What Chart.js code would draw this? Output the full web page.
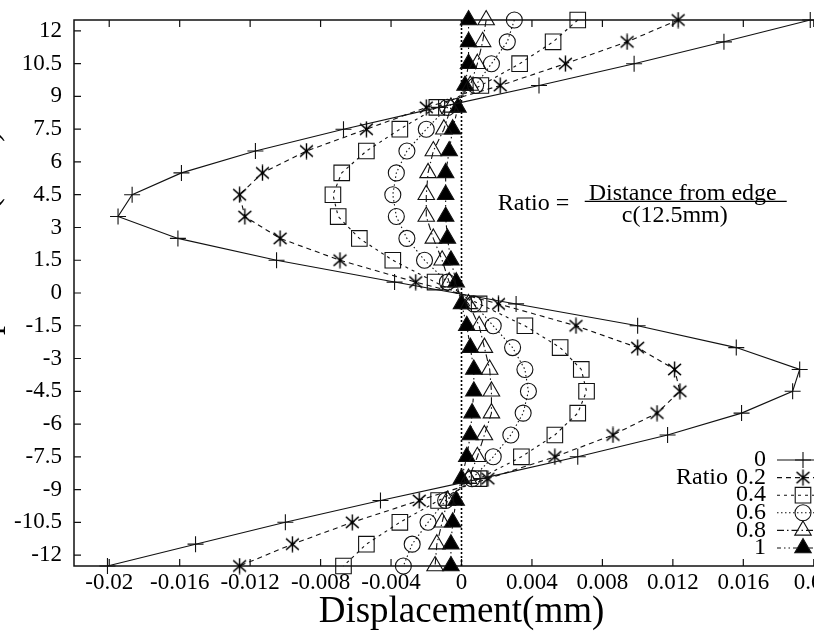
<!DOCTYPE html>
<html>
<head>
<meta charset="utf-8">
<script src="https://cdn.jsdelivr.net/npm/chart.js"></script>
<style>
  html, body { margin: 0; padding: 0; background: #fff; overflow: hidden; }
  #dispChart { position: absolute; left: -40px; top: 0; }
</style>
</head>
<body>
<canvas id="dispChart" width="910" height="634"></canvas>
<script>
// vertical position of each measuring point (mm), top to bottom
const positions = [12.5, 11.5, 10.5, 9.5, 8.5, 7.5, 6.5, 5.5, 4.5, 3.5, 2.5, 1.5, 0.5,
    -0.5, -1.5, -2.5, -3.5, -4.5, -5.5, -6.5, -7.5, -8.5, -9.5, -10.5, -11.5, -12.5];

// displacement (mm) for each ratio
const ratio0 = [0.0198, 0.0149, 0.0098, 0.0044, -0.0013, -0.0067, -0.0117, -0.0159, -0.0187, -0.0195, -0.0161, -0.0105, -0.0038,
    0.0031, 0.0100, 0.0156, 0.0192, 0.0188, 0.0159, 0.0117, 0.0066, 0.0011, -0.0046, -0.0100, -0.0151, -0.0201];
const ratio02 = [0.0123, 0.0094, 0.0059, 0.0022, -0.0020, -0.0054, -0.0088, -0.0113, -0.0126, -0.0123, -0.0103, -0.0069, -0.0026,
    0.0021, 0.0065, 0.0100, 0.0121, 0.0124, 0.0111, 0.0086, 0.0053, 0.0015, -0.0024, -0.0062, -0.0096, -0.0126];
const ratio04 = [0.0066, 0.0052, 0.0033, 0.0011, -0.0014, -0.0035, -0.0054, -0.0068, -0.0073, -0.0070, -0.0058, -0.0039, -0.0015,
    0.0010, 0.0036, 0.0056, 0.0068, 0.0071, 0.0066, 0.0053, 0.0034, 0.0010, -0.0013, -0.0035, -0.0054, -0.0067];
const ratio06 = [0.0030, 0.0026, 0.0017, 0.0008, -0.0008, -0.0020, -0.0031, -0.0037, -0.0039, -0.0037, -0.0031, -0.0021, -0.0008,
    0.0007, 0.0018, 0.0029, 0.0036, 0.0038, 0.0035, 0.0028, 0.0018, 0.0006, -0.0009, -0.0019, -0.0028, -0.0033];
const ratio08 = [0.0014, 0.0012, 0.0009, 0.0005, -0.0006, -0.0010, -0.0016, -0.0019, -0.0020, -0.0020, -0.0016, -0.0011, -0.0007,
    0.0004, 0.0010, 0.0013, 0.0016, 0.0017, 0.0017, 0.0013, 0.0009, 0.0004, -0.0008, -0.0011, -0.0014, -0.0015];
const ratio1 = [0.0004, 0.0004, 0.0004, 0.0002, -0.0002, -0.0005, -0.0007, -0.0009, -0.0009, -0.0009, -0.0008, -0.0006, -0.0003,
    0.0000, 0.0003, 0.0005, 0.0007, 0.0007, 0.0006, 0.0005, 0.0003, 0.0000, -0.0003, -0.0005, -0.0006, -0.0006];

const ratioLabels = ["0", "0.2", "0.4", "0.6", "0.8", "1"];

const xTickValues = [-0.02, -0.016, -0.012, -0.008, -0.004, 0, 0.004, 0.008, 0.012, 0.016, 0.02];
const xTickLabels = ["-0.02", "-0.016", "-0.012", "-0.008", "-0.004", "0", "0.004", "0.008", "0.012", "0.016", "0.02"];
const yTickValues = [-12, -10.5, -9, -7.5, -6, -4.5, -3, -1.5, 0, 1.5, 3, 4.5, 6, 7.5, 9, 10.5, 12];
const yTickLabels = ["-12", "-10.5", "-9", "-7.5", "-6", "-4.5", "-3", "-1.5", "0", "1.5", "3", "4.5", "6", "7.5", "9", "10.5", "12"];

const serif = "'Liberation Serif', 'Times New Roman', serif";
const ink = "#111";

// gnuplot-like asterisk (vertical bar + X)
function makeAsterisk(size) {
    const c = document.createElement("canvas");
    c.width = size;
    c.height = size;
    const g = c.getContext("2d");
    const m = size / 2, r = size / 2 - 0.5;
    g.strokeStyle = "#000";
    g.lineWidth = 1.4;
    g.beginPath();
    g.moveTo(m, m - r); g.lineTo(m, m + r);
    g.moveTo(m - r * 0.8, m - r * 0.7); g.lineTo(m + r * 0.8, m + r * 0.7);
    g.moveTo(m - r * 0.8, m + r * 0.7); g.lineTo(m + r * 0.8, m - r * 0.7);
    g.stroke();
    g.fillStyle = "#000";
    g.beginPath();
    g.arc(m, m, 1.5, 0, Math.PI * 2);
    g.fill();
    return c;
}
const asterisk = makeAsterisk(17);

function toPoints(values) {
    return values.map((v, i) => ({ x: v, y: positions[i] }));
}

function series(label, values, dash, style, radius, fill) {
    return {
        label: label,
        data: toPoints(values),
        borderColor: ink,
        borderWidth: 1.1,
        borderDash: dash,
        pointStyle: style,
        pointRadius: radius,
        pointBorderColor: ink,
        pointBorderWidth: 1.1,
        pointBackgroundColor: fill,
        tension: 0,
        clip: false,
    };
}

const data = {
    datasets: [
        series(ratioLabels[0], ratio0, [], "cross", 8, "rgba(0,0,0,0)"),
        series(ratioLabels[1], ratio02, [5, 4], asterisk, 8, "rgba(0,0,0,0)"),
        series(ratioLabels[2], ratio04, [3, 4], "rect", 11, "rgba(0,0,0,0)"),
        series(ratioLabels[3], ratio06, [1.5, 2.5], "circle", 8, "rgba(0,0,0,0)"),
        series(ratioLabels[4], ratio08, [7, 3, 1.5, 3], "triangle", 9.5, "rgba(0,0,0,0)"),
        series(ratioLabels[5], ratio1, [4, 3, 1.5, 3, 1.5, 3], "triangle", 9.5, "#000"),
        {
            label: "zero",
            data: [{ x: 0, y: 12.5 }, { x: 0, y: -12.5 }],
            borderColor: "#000",
            borderWidth: 1.6,
            borderDash: [2, 2],
            pointRadius: 0,
            clip: false,
        },
    ],
};

// frame with inward ticks on all four sides
const framePlugin = {
    id: "frame",
    beforeDatasetsDraw(chart) {
        const { ctx, chartArea: a, scales } = chart;
        ctx.save();
        ctx.strokeStyle = ink;
        ctx.lineWidth = 1.5;
        ctx.strokeRect(a.left, a.top, a.right - a.left, a.bottom - a.top);
        ctx.lineWidth = 1.2;
        ctx.beginPath();
        xTickValues.forEach(v => {
            const px = scales.x.getPixelForValue(v);
            ctx.moveTo(px, a.bottom); ctx.lineTo(px, a.bottom - 7);
            ctx.moveTo(px, a.top); ctx.lineTo(px, a.top + 7);
        });
        yTickValues.forEach(v => {
            const py = scales.y.getPixelForValue(v);
            ctx.moveTo(a.left, py); ctx.lineTo(a.left + 7, py);
            ctx.moveTo(a.right, py); ctx.lineTo(a.right - 7, py);
        });
        ctx.stroke();
        ctx.restore();
    },
};

// gnuplot style key + ratio formula
const keyPlugin = {
    id: "key",
    afterDatasetsDraw(chart) {
        const { ctx, chartArea: a, scales } = chart;
        ctx.save();
        ctx.fillStyle = "#000";
        ctx.font = "24px " + serif;
        ctx.textBaseline = "middle";

        const textRight = a.right - 83;
        const lineFrom = a.right - 72, lineTo = a.right - 22, markX = a.right - 46;
        chart.data.datasets.slice(0, 6).forEach((ds, i) => {
            const y = a.bottom - 106 + i * 17.6;
            ctx.textAlign = "right";
            ctx.fillStyle = "#000";
            ctx.fillText(ds.label, textRight, y);
            ctx.strokeStyle = ds.borderColor;
            ctx.lineWidth = ds.borderWidth;
            ctx.setLineDash(ds.borderDash);
            ctx.beginPath();
            ctx.moveTo(lineFrom, y); ctx.lineTo(lineTo, y);
            ctx.stroke();
            ctx.setLineDash([]);
            ctx.strokeStyle = ds.pointBorderColor;
            ctx.fillStyle = ds.pointBackgroundColor;
            ctx.lineWidth = ds.pointBorderWidth;
            Chart.helpers.drawPoint(ctx, {
                pointStyle: ds.pointStyle, radius: ds.pointRadius, rotation: 0, borderWidth: ds.pointBorderWidth,
            }, markX, y);
        });
        ctx.fillStyle = "#000";
        ctx.textAlign = "right";
        ctx.fillText("Ratio", textRight - 38, a.bottom - 106 + 17.6);

        // Ratio = Distance from edge / c(12.5mm)
        const x0 = scales.x.getPixelForValue(0.002);
        const yMid = scales.y.getPixelForValue(4.1);
        ctx.textAlign = "left";
        ctx.fillText("Ratio =", x0 + 1, yMid);
        ctx.textAlign = "center";
        ctx.fillText("Distance from edge", x0 + 186, yMid - 10);
        ctx.fillText("c(12.5mm)", x0 + 178, yMid + 12);
        ctx.strokeStyle = "#000";
        ctx.lineWidth = 1.3;
        ctx.beginPath();
        ctx.moveTo(x0 + 88, yMid - 2); ctx.lineTo(x0 + 290, yMid - 2);
        ctx.stroke();
        ctx.restore();
    },
};

const config = {
    type: "line",
    data: data,
    options: {
        responsive: false,
        animation: false,
        layout: { autoPadding: false, padding: { left: 0, right: 21, top: 20, bottom: 0 } },
        plugins: {
            legend: { display: false },
            tooltip: { enabled: false },
        },
        scales: {
            x: {
                type: "linear",
                min: -0.022,
                max: 0.022,
                afterBuildTicks: s => { s.ticks = xTickValues.map(v => ({ value: v })); },
                afterFit: s => { s.height = 68; s.paddingLeft = 0; s.paddingRight = 0; },
                grid: { display: false, drawTicks: false },
                border: { display: false },
                ticks: {
                    padding: 3,
                    color: "#000",
                    font: { family: serif, size: 23 },
                    maxRotation: 0,
                    autoSkip: false,
                    callback: (v) => xTickLabels[xTickValues.indexOf(v)] ?? "",
                },
                title: {
                    display: true,
                    text: "Displacement(mm)",
                    color: "#000",
                    font: { family: serif, size: 37 },
                    padding: { top: 0, bottom: 0 },
                },
            },
            y: {
                type: "linear",
                min: -12.5,
                max: 12.5,
                afterBuildTicks: s => { s.ticks = yTickValues.map(v => ({ value: v })); },
                afterFit: s => { s.width = 114; s.paddingTop = 0; s.paddingBottom = 0; },
                grid: { display: false, drawTicks: false },
                border: { display: false },
                ticks: {
                    padding: 12,
                    color: "#000",
                    font: { family: serif, size: 23 },
                    autoSkip: false,
                    callback: (v) => yTickLabels[yTickValues.indexOf(v)] ?? "",
                },
                title: {
                    display: true,
                    text: "Vertical position (mm)",
                    color: "#000",
                    font: { family: serif, size: 36 },
                    padding: { top: 6, bottom: 0 },
                },
            },
        },
    },
    plugins: [framePlugin, keyPlugin],
};

const ctx = document.getElementById("dispChart").getContext("2d");
const dispChart = new Chart(ctx, config);
</script>
</body>
</html>
